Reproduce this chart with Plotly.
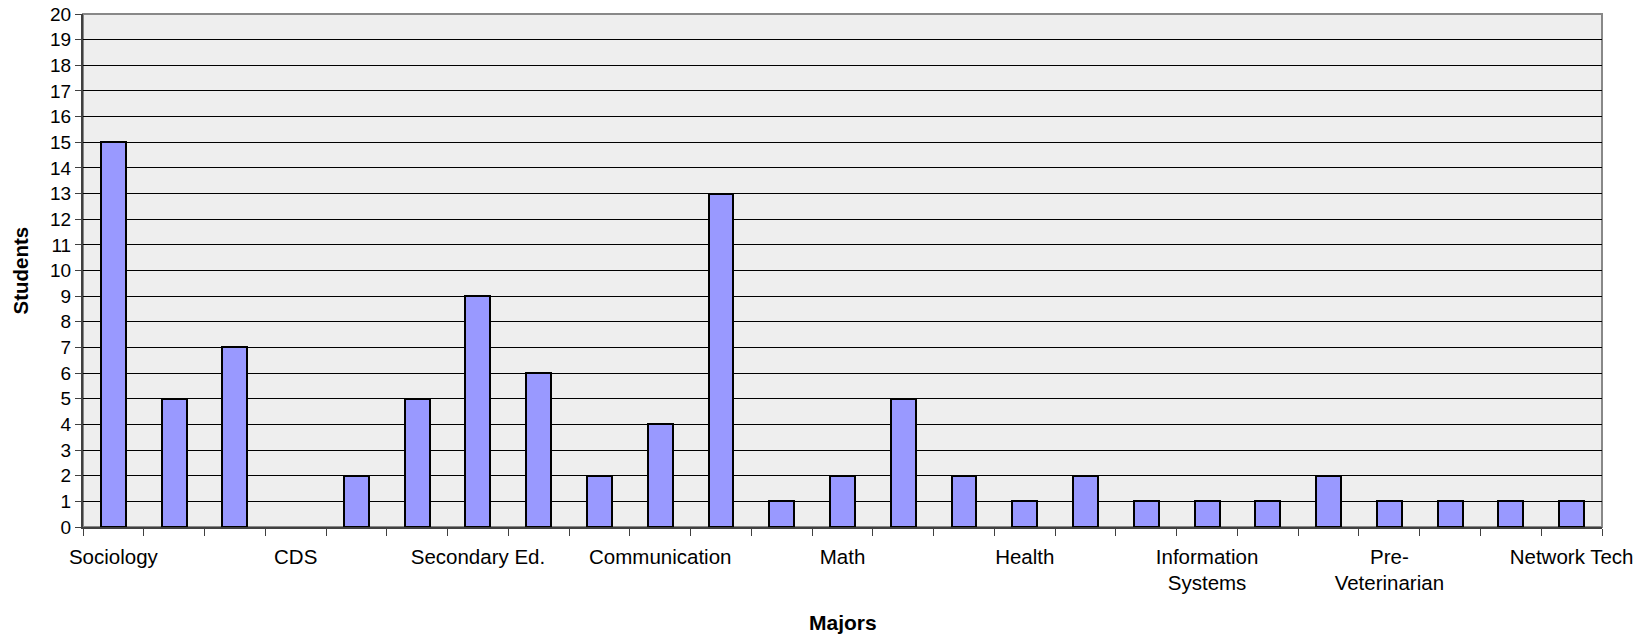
import plotly.graph_objects as go

tick_labels = ["Sociology", "", "", "CDS", "", "", "Secondary Ed.", "", "",
               "Communication", "", "", "Math", "", "", "Health", "", "",
               "Information<br>Systems", "", "", "Pre-<br>Veterinarian", "", "",
               "Network Tech"]
students = [15, 5, 7, 0, 2, 5, 9, 6, 2, 4, 13, 1, 2, 5, 2, 1, 2, 1, 1, 1, 2, 1, 1, 1, 1]
y_ticks = list(range(0, 21))

idx = list(range(len(students)))
FONT = "Liberation Sans, Arial, sans-serif"

fig = go.Figure(go.Bar(
    x=idx, y=students, width=0.41,
    marker=dict(color="#9999FF",
                line=dict(color="#000000", width=[2 if v else 0 for v in students])),
))

fig.update_layout(
    width=1647, height=637,
    margin=dict(l=83, r=45, t=14, b=110),
    paper_bgcolor="white", plot_bgcolor="#EEEEEE",
    showlegend=False,
    font=dict(family=FONT, color="black"),
    bargap=0,
)
fig.update_xaxes(
    range=[-0.5, len(students) - 0.5], automargin=False,
    tickmode="array", tickvals=idx, ticktext=tick_labels,
    ticks="", tickfont=dict(size=20.5, family=FONT),
    ticklabelstandoff=10,
    showgrid=False, zeroline=False,
    showline=True, linecolor="#404040", linewidth=2,
    mirror=False,
    minor=dict(tickmode="array", tickvals=[i - 0.5 for i in range(len(students) + 1)],
               ticks="outside", ticklen=7, tickcolor="#404040", tickwidth=1, showgrid=False),
)
fig.update_yaxes(
    range=[0, 20], tickmode="array", tickvals=y_ticks, automargin=False,
    ticks="outside", ticklen=6, tickcolor="#404040",
    tickfont=dict(size=19, family=FONT),
    showgrid=True, gridcolor="#000000", gridwidth=1,
    zeroline=False,
    showline=True, linecolor="#404040", linewidth=2,
)
# top/right plot border (grey)
fig.add_shape(type="rect", xref="paper", yref="paper", x0=0, x1=1, y0=0, y1=1,
              line=dict(color="#888888", width=2), layer="below")

fig.add_annotation(text="<b>Students</b>", xref="paper", yref="paper", x=0, y=0.5,
                   xanchor="center", yanchor="middle",
                   xshift=-63, textangle=-90, showarrow=False,
                   font=dict(size=20.5, family=FONT))
fig.add_annotation(text="<b>Majors</b>", xref="paper", yref="paper", x=0.5, y=0,
                   xanchor="center", yanchor="middle",
                   yshift=-95, showarrow=False,
                   font=dict(size=21, family=FONT))

fig.write_html("out.html", config={"displayModeBar": False},
               post_script="document.body.style.margin='0';")
